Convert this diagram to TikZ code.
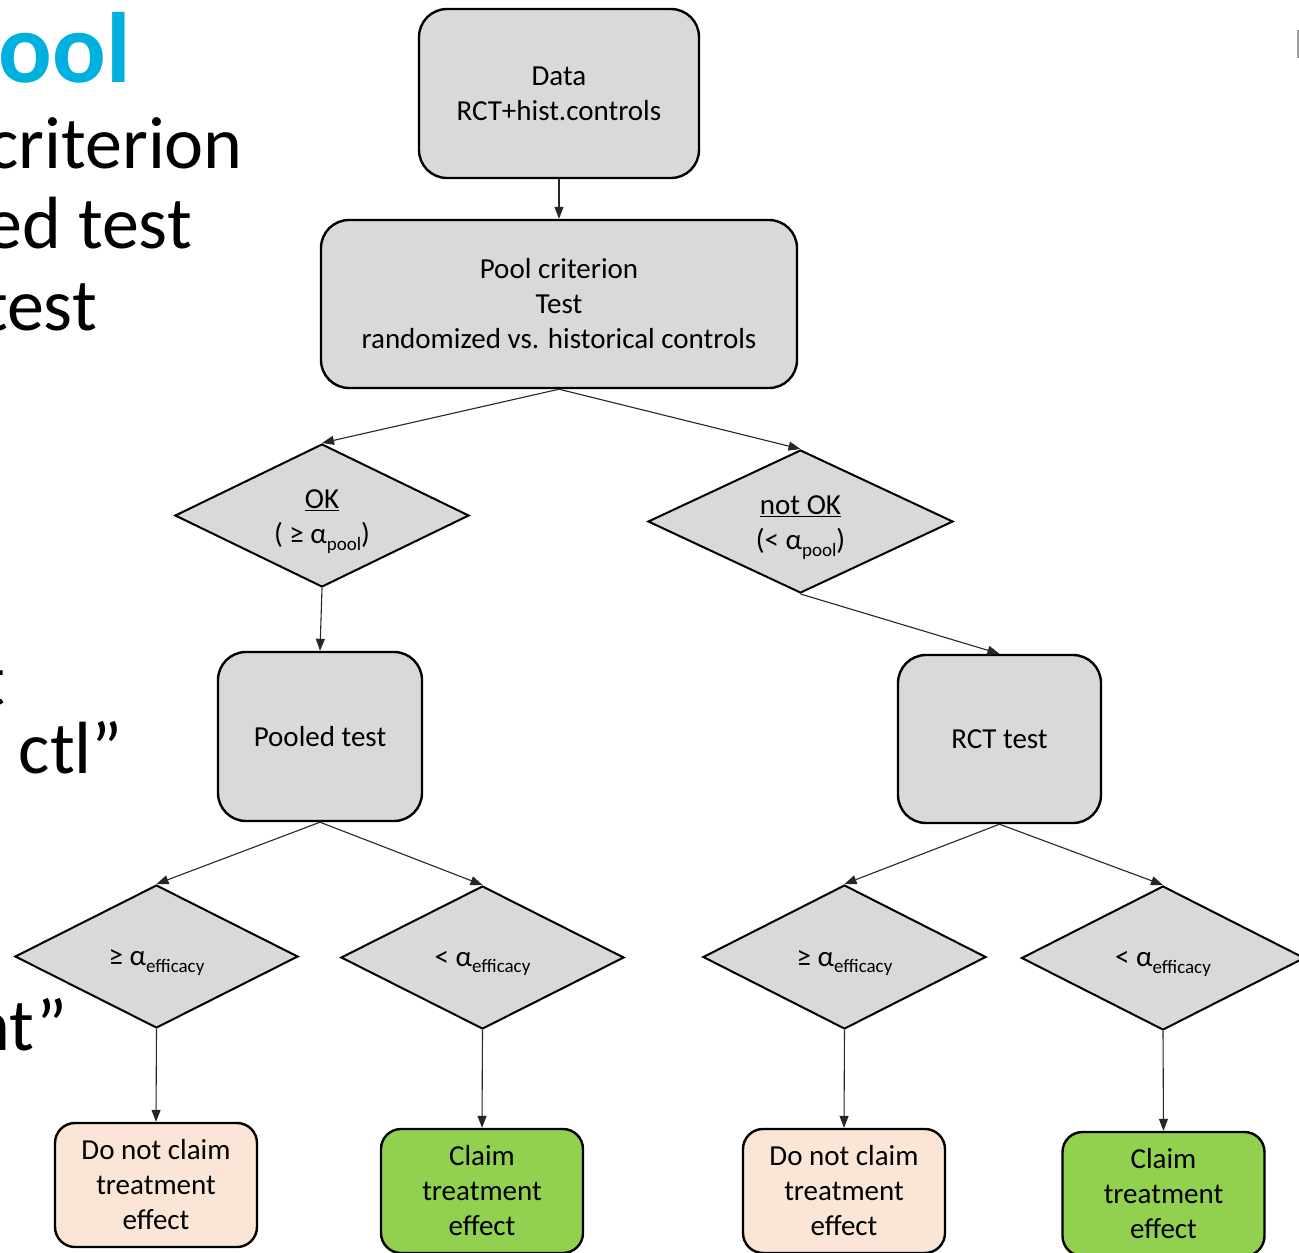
\documentclass[tikz,border=0pt]{standalone}
\usepackage{fontspec}
\setmainfont{Carlito}
\usetikzlibrary{shapes.geometric,arrows.meta}
\definecolor{boxgray}{RGB}{217,217,217}
\definecolor{peach}{RGB}{251,229,214}
\definecolor{lgreen}{RGB}{146,208,80}
\definecolor{slidecyan}{RGB}{0,176,222}
\newcommand{\subtx}[1]{\raisebox{-0.22em}{\fontsize{19}{19}\selectfont #1}}
\begin{document}
\begin{tikzpicture}[x=1pt,y=-1pt,
  every node/.style={font=\fontsize{29}{35}\selectfont, align=center, inner sep=0pt},
  rbox/.style={draw=black, line width=2.4pt, rounded corners=28pt, fill=boxgray},
  endbox/.style={draw=black, line width=2.4pt, rounded corners=20pt, minimum width=202pt, minimum height=124pt},
  dia/.style={diamond, draw=black, line width=2pt, fill=boxgray, shape aspect=2},
  dlbl/.style={yshift=-6pt},
  conn/.style={draw=black!85, line width=1.1pt, -{Triangle[length=12pt,width=9pt]}},
  bigtext/.style={font=\fontsize{74}{80}\selectfont, anchor=base east, inner sep=0pt},
]
\path[use as bounding box] (0,0) rectangle (1299,1253);
\clip (0,0) rectangle (1299,1253);
\fill[white] (0,0) rectangle (1299,1253);

% background slide text (cropped)
\node[bigtext, font=\fontsize{100}{100}\selectfont\bfseries, text=slidecyan] (t0) at (131,82) {ool};
\node[bigtext] (t1) at (243,168) {criterion};
\node[bigtext] (t2) at (192,248) {ed test};
\node[bigtext] (t3) at (97,330) {test};
\node[bigtext] (t4) at (5,705) {t};
\node[bigtext] (t5) at (123,773) {l ctl”};
\node[bigtext] (t6) at (68,1050) {nt”};
\fill[gray!75] (1296.5,30) rectangle (1299,58);

% flowchart nodes
\node[rbox, minimum width=280pt, minimum height=169pt] (data) at (559,93.5) {Data\\RCT+hist.controls};
\node[rbox, minimum width=476pt, minimum height=168pt] (pool) at (559,304) {Pool criterion\\Test\\randomized vs. historical controls};
\node[dia, minimum width=294pt, minimum height=143pt] (ok) at (322,515.5) {};
\node[dia, minimum width=305pt, minimum height=143pt] (nok) at (800.5,521.5) {};
\node[rbox, minimum width=204pt, minimum height=169pt] (pooled) at (320,736.5) {Pooled test};
\node[rbox, minimum width=203pt, minimum height=168pt] (rct) at (999.5,739) {RCT test};
\node[dia, minimum width=283pt, minimum height=143pt] (d1) at (156.5,956.5) {};
\node[dia, minimum width=283pt, minimum height=143pt] (d2) at (482.5,957.5) {};
\node[dia, minimum width=283pt, minimum height=144pt] (d3) at (844.5,957) {};
\node[dia, minimum width=283pt, minimum height=144pt] (d4) at (1163,958) {};
\node[endbox, fill=peach] (b1) at (156,1185) {Do not claim\\treatment\\effect};
\node[endbox, fill=lgreen] (b2) at (482,1191) {Claim\\treatment\\effect};
\node[endbox, fill=peach] (b3) at (844,1191) {Do not claim\\treatment\\effect};
\node[endbox, fill=lgreen] (b4) at (1163.5,1194) {Claim\\treatment\\effect};

% diamond labels
\node[dlbl] (okl) at (ok.center) {\underline{OK}\\( ≥ α\subtx{pool})};
\node[dlbl] (nokl) at (nok.center) {\underline{not OK}\\(< α\subtx{pool})};
\node[dlbl] (d1l) at (d1.center) {≥ α\subtx{efficacy}};
\node[dlbl] (d2l) at (d2.center) {< α\subtx{efficacy}};
\node[dlbl] (d3l) at (d3.center) {≥ α\subtx{efficacy}};
\node[dlbl] (d4l) at (d4.center) {< α\subtx{efficacy}};

% connectors
\draw[conn] (data.south) -- (pool.north);
\draw[conn] (pool.south) -- (ok.north);
\draw[conn] (pool.south) -- (nok.north);
\draw[conn] (ok.south) -- (pooled.north);
\draw[conn] (nok.south) -- (rct.north);
\draw[conn] (pooled.south) -- (d1.north);
\draw[conn] (pooled.south) -- (d2.north);
\draw[conn] (rct.south) -- (d3.north);
\draw[conn] (rct.south) -- (d4.north);
\draw[conn] (d1.south) -- (b1.north);
\draw[conn] (d2.south) -- (b2.north);
\draw[conn] (d3.south) -- (b3.north);
\draw[conn] (d4.south) -- (b4.north);
\end{tikzpicture}
\end{document}
